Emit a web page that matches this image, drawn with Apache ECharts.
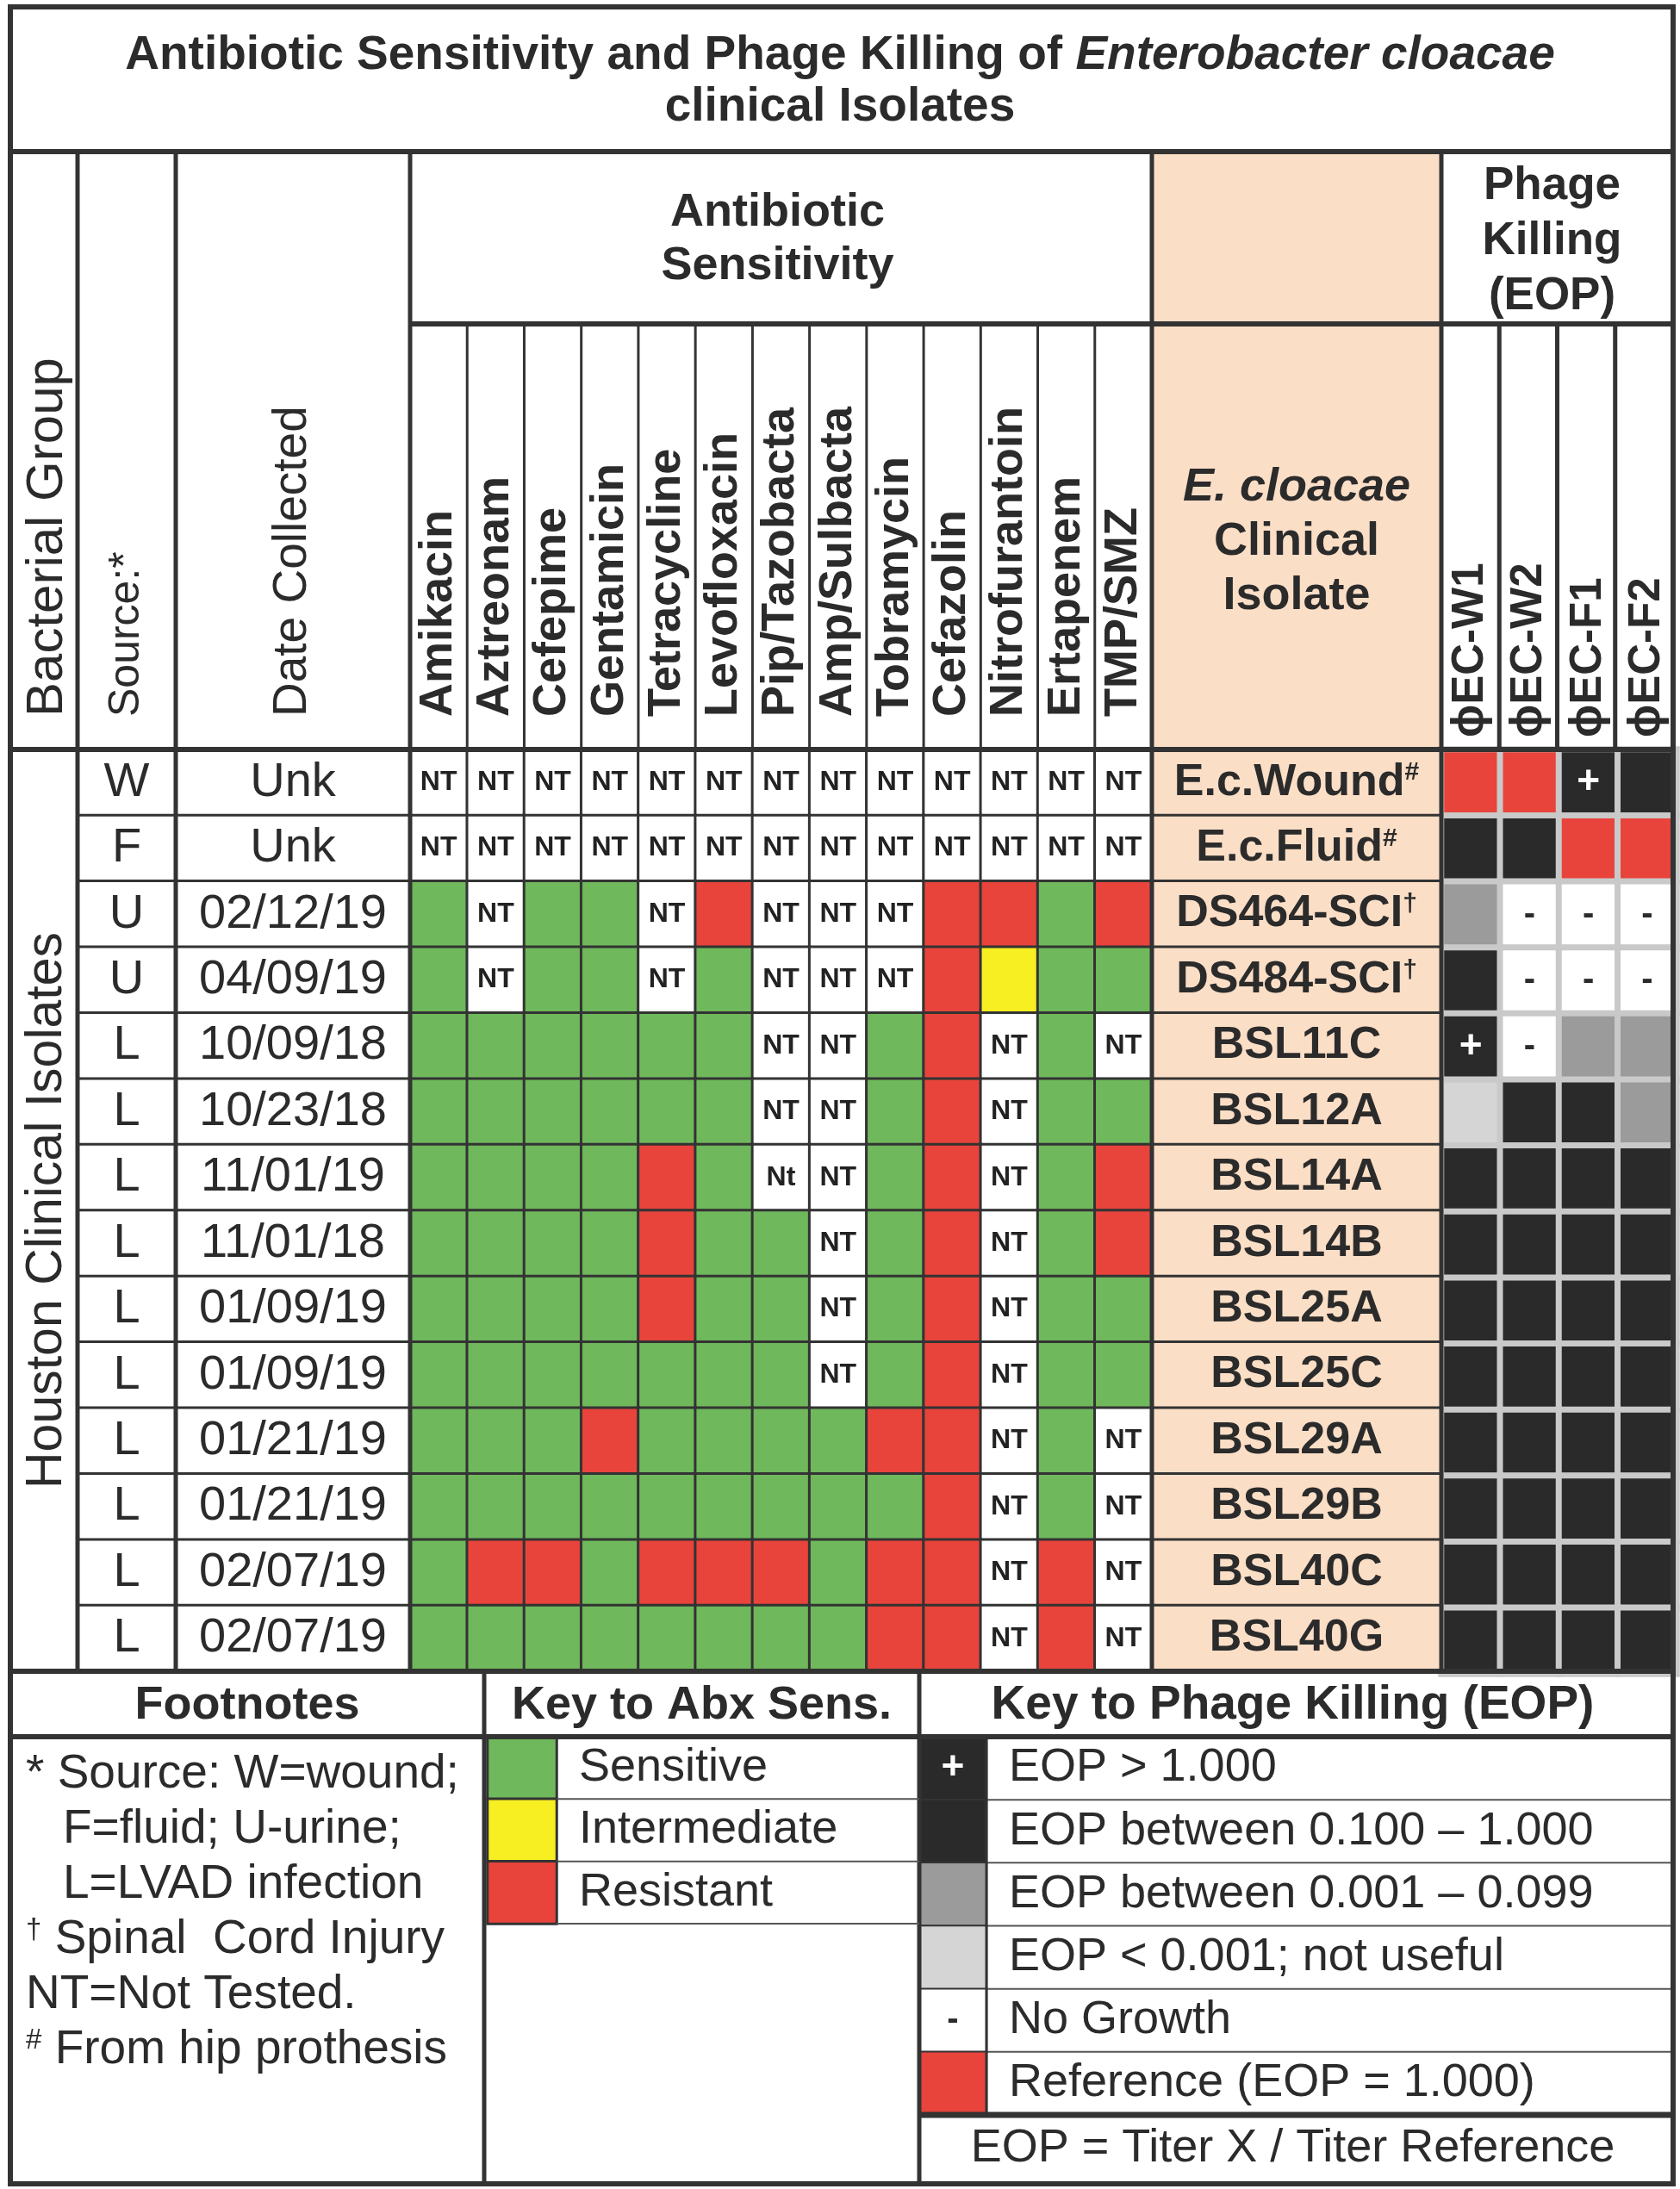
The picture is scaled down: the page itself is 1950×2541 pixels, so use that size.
<!DOCTYPE html>
<html>
<head>
<meta charset="utf-8">
<title>Antibiotic Sensitivity and Phage Killing of Enterobacter cloacae</title>
<script src="https://cdn.jsdelivr.net/npm/echarts@6/dist/echarts.min.js"></script>
<style>
    html, body { margin: 0; padding: 0; background: #fff; }
    #chart { width: 1950px; height: 2541px; }
</style>
</head>
<body>
<div id="chart"></div>
<script>
var antibiotics = ['Amikacin', 'Aztreonam', 'Cefepime', 'Gentamicin', 'Tetracycline', 'Levofloxacin',
    'Pip/Tazobacta', 'Amp/Sulbacta', 'Tobramycin', 'Cefazolin', 'Nitrofurantoin', 'Ertapenem', 'TMP/SMZ'];
var phages = ['\u03d5EC-W1', '\u03d5EC-W2', '\u03d5EC-F1', '\u03d5EC-F2'];
var isolates = ['E.c.Wound#', 'E.c.Fluid#', 'DS464-SCI\u2020', 'DS484-SCI\u2020', 'BSL11C', 'BSL12A', 'BSL14A',
    'BSL14B', 'BSL25A', 'BSL25C', 'BSL29A', 'BSL29B', 'BSL40C', 'BSL40G'];
var sources = ['W', 'F', 'U', 'U', 'L', 'L', 'L', 'L', 'L', 'L', 'L', 'L', 'L', 'L'];
var dates = ['Unk', 'Unk', '02/12/19', '04/09/19', '10/09/18', '10/23/18', '11/01/19', '11/01/18',
    '01/09/19', '01/09/19', '01/21/19', '01/21/19', '02/07/19', '02/07/19'];

// S = sensitive, I = intermediate, R = resistant, NT = not tested
var abxResults = [
    ['NT','NT','NT','NT','NT','NT','NT','NT','NT','NT','NT','NT','NT'],
    ['NT','NT','NT','NT','NT','NT','NT','NT','NT','NT','NT','NT','NT'],
    ['S','NT','S','S','NT','R','NT','NT','NT','R','R','S','R'],
    ['S','NT','S','S','NT','S','NT','NT','NT','R','I','S','S'],
    ['S','S','S','S','S','S','NT','NT','S','R','NT','S','NT'],
    ['S','S','S','S','S','S','NT','NT','S','R','NT','S','S'],
    ['S','S','S','S','R','S','Nt','NT','S','R','NT','S','R'],
    ['S','S','S','S','R','S','S','NT','S','R','NT','S','R'],
    ['S','S','S','S','R','S','S','NT','S','R','NT','S','S'],
    ['S','S','S','S','S','S','S','NT','S','R','NT','S','S'],
    ['S','S','S','R','S','S','S','S','R','R','NT','S','NT'],
    ['S','S','S','S','S','S','S','S','S','R','NT','S','NT'],
    ['S','R','R','S','R','R','R','S','R','R','NT','R','NT'],
    ['S','S','S','S','S','S','S','S','R','R','NT','R','NT']
];

// REF = reference, PLUS = EOP > 1, HIGH = 0.1-1, MID = 0.001-0.099, LOW = < 0.001, NG = no growth
var phageResults = [
    ['REF','REF','PLUS','HIGH'],
    ['HIGH','HIGH','REF','REF'],
    ['MID','NG','NG','NG'],
    ['HIGH','NG','NG','NG'],
    ['PLUS','NG','MID','MID'],
    ['LOW','HIGH','HIGH','MID'],
    ['HIGH','HIGH','HIGH','HIGH'],
    ['HIGH','HIGH','HIGH','HIGH'],
    ['HIGH','HIGH','HIGH','HIGH'],
    ['HIGH','HIGH','HIGH','HIGH'],
    ['HIGH','HIGH','HIGH','HIGH'],
    ['HIGH','HIGH','HIGH','HIGH'],
    ['HIGH','HIGH','HIGH','HIGH'],
    ['HIGH','HIGH','HIGH','HIGH']
];

var abxKeyCodes = ['S', 'I', 'R'];
var abxKeyLabels = ['Sensitive', 'Intermediate', 'Resistant'];
var phageKeyCodes = ['PLUS', 'HIGH', 'MID', 'LOW', 'NG', 'REF'];
var phageKeyLabels = ['EOP > 1.000', 'EOP between 0.100 \u2013 1.000', 'EOP between 0.001 \u2013 0.099',
    'EOP < 0.001; not useful', 'No Growth', 'Reference (EOP = 1.000)'];

var footnoteLines = ['* Source: W=wound;', 'F=fluid; U-urine;', 'L=LVAD infection',
    '{s|\u2020} Spinal  Cord Injury', 'NT=Not Tested.', '{s|#} From hip prothesis'];
var footnoteIndent = [0, 1, 1, 0, 0, 0];

// ---- look ----
var FONT = '"Liberation Sans", Arial, "DejaVu Sans", sans-serif';
var INK = '#2b2b2b';
var LINE = '#333';
var codeColor = {
    S: '#6fb85c', I: '#f7ef22', R: '#e8443c', NT: '#ffffff', Nt: '#ffffff',
    REF: '#e8443c', PLUS: '#2a2a2a', HIGH: '#2a2a2a', MID: '#9b9b9b', LOW: '#d5d5d5', NG: '#ffffff',
    INFO: '#ffffff', ISO: '#fbdec6'
};
var codeList = Object.keys(codeColor);
function code(c) { return codeList.indexOf(c); }

// ---- layout of the table frame ----
var L = 12, R = 1942, T = 8, B = 2535;
var TITLE_B = 176, HEAD_MID = 376, DATA_T = 870, DATA_B = 1940;
var X_GRP = 90, X_SRC = 204, X_DATE = 476, X_ISO = 1337, X_PHG = 1673;
var FOOT_HEAD_B = 2016, X_FOOT = 562, X_KEY = 1067, PKEY_B = 2455, AKEY_H = 217;

var chart = echarts.init(document.getElementById('chart'), null, {renderer: 'canvas'});

function seg(x1, y1, x2, y2, w, c) {
    return {type: 'line', z: 100, silent: true, shape: {x1: x1, y1: y1, x2: x2, y2: y2},
        style: {stroke: c || LINE, lineWidth: w}};
}
function txt(x, y, text, size, opt) {
    opt = opt || {};
    return {
        type: 'text', z: 110, silent: true, x: x, y: y, rotation: opt.rot || 0,
        style: {
            text: text, fill: INK, rich: opt.rich,
            font: (opt.style || 'normal') + ' ' + (opt.weight || 'normal') + ' ' + size + 'px ' + FONT,
            textAlign: opt.align || 'center', textVerticalAlign: 'middle',
            align: opt.align || 'center', verticalAlign: 'middle', lineHeight: opt.lh
        }
    };
}
function richPart(size, weight, italic, extra) {
    var o = {fontSize: size, fontWeight: weight, fontStyle: italic ? 'italic' : 'normal',
        fontFamily: FONT, fill: INK, color: INK};
    for (var k in extra) o[k] = extra[k];
    return o;
}

// ---- heatmap data ----
var abxData = [], phageData = [], srcData = [], dateData = [], isoData = [];
isolates.forEach(function(name, r) {
    abxResults[r].forEach(function(v, c) { abxData.push([c, r, code(v)]); });
    phageResults[r].forEach(function(v, c) { phageData.push([c, r, code(v)]); });
    srcData.push([0, r, code('INFO')]);
    dateData.push([0, r, code('INFO')]);
    isoData.push([0, r, code('ISO')]);
});
var abxKeyData = abxKeyCodes.map(function(c, i) { return [0, i, code(c)]; });
var phageKeyData = phageKeyCodes.map(function(c, i) { return [0, i, code(c)]; });

function phageMark(c) {
    if (c === 'PLUS') return '{p|+}';
    if (c === 'NG') return '{m|-}';
    return '';
}
var markRich = {
    p: richPart(46, 'bold', false, {fill: '#fff', color: '#fff'}),
    m: richPart(40, 'bold', false)
};

// ---- grids ----
// phage grid runs a few px under the right/bottom frame so its outer gray edge is hidden
var grids = [
    {left: X_DATE, top: DATA_T, width: X_ISO - X_DATE, height: DATA_B - DATA_T},
    {left: X_PHG, top: DATA_T, width: R - X_PHG + 4, height: DATA_B - DATA_T + 3},
    {left: X_GRP, top: DATA_T, width: X_SRC - X_GRP, height: DATA_B - DATA_T},
    {left: X_SRC, top: DATA_T, width: X_DATE - X_SRC, height: DATA_B - DATA_T},
    {left: X_ISO, top: DATA_T, width: X_PHG - X_ISO, height: DATA_B - DATA_T},
    {left: X_FOOT + 4, top: FOOT_HEAD_B, width: 80, height: AKEY_H},
    {left: X_KEY, top: FOOT_HEAD_B, width: 78, height: PKEY_B - FOOT_HEAD_B}
];
var hidden = {show: false};
function catX(gi, data, extra) {
    var a = {type: 'category', gridIndex: gi, data: data, axisLine: hidden, axisTick: hidden,
        splitLine: hidden, axisLabel: hidden};
    for (var k in extra) a[k] = extra[k];
    return a;
}
function catY(gi, data, extra) {
    var a = {type: 'category', gridIndex: gi, data: data, inverse: true, axisLine: hidden,
        axisTick: hidden, splitLine: hidden, axisLabel: hidden};
    for (var k in extra) a[k] = extra[k];
    return a;
}
var one = [''];
var xAxes = [
    catX(0, antibiotics, {position: 'top', axisLabel: {show: true, rotate: -90, interval: 0, margin: 38,
        fontFamily: FONT, fontWeight: 'bold', fontSize: 54, color: INK}}),
    catX(1, phages, {position: 'top', axisLabel: {show: true, rotate: -90, interval: 0, margin: 14,
        fontFamily: FONT, fontWeight: 'bold', fontSize: 51, color: INK}}),
    catX(2, one), catX(3, one), catX(4, one), catX(5, one), catX(6, one)
];
var keyLabel = {show: true, margin: 26, fontFamily: FONT, fontSize: 54, color: INK, align: 'left'};
var yAxes = [
    catY(0, isolates), catY(1, isolates), catY(2, isolates), catY(3, isolates), catY(4, isolates),
    catY(5, abxKeyLabels, {position: 'right', axisLabel: keyLabel}),
    catY(6, phageKeyLabels, {position: 'right', axisLabel: echarts.util.extend({}, keyLabel, {margin: 20})})
];

function heat(gi, data, border, bw, label) {
    return {type: 'heatmap', xAxisIndex: gi, yAxisIndex: gi, data: data, animation: false,
        itemStyle: {borderColor: border, borderWidth: bw}, label: label, emphasis: {disabled: true}};
}

var series = [
    heat(0, abxData, LINE, 3, {show: true, fontFamily: FONT, fontWeight: 'bold', fontSize: 32, color: '#222',
        formatter: function(p) {
            var v = abxResults[p.value[1]][p.value[0]];
            return (v === 'NT' || v === 'Nt') ? v : '';
        }}),
    heat(1, phageData, '#c9c9c9', 7, {show: true, rich: markRich,
        formatter: function(p) { return phageMark(phageResults[p.value[1]][p.value[0]]); }}),
    heat(2, srcData, LINE, 3, {show: true, fontFamily: FONT, fontSize: 56, color: INK,
        formatter: function(p) { return sources[p.value[1]]; }}),
    heat(3, dateData, LINE, 3, {show: true, fontFamily: FONT, fontSize: 56, color: INK,
        formatter: function(p) { return dates[p.value[1]]; }}),
    heat(4, isoData, LINE, 3, {show: true,
        rich: {n: richPart(52, 'bold', false), s: richPart(30, 'bold', false, {verticalAlign: 'top'})},
        formatter: function(p) {
            var name = isolates[p.value[1]];
            var m = name.match(/[#\u2020]$/);
            return m ? '{n|' + name.slice(0, -1) + '}{s|' + m[0] + '}' : '{n|' + name + '}';
        }}),
    heat(5, abxKeyData, LINE, 3, {show: false}),
    heat(6, phageKeyData, LINE, 2, {show: true, rich: markRich,
        formatter: function(p) { return phageMark(phageKeyCodes[p.value[1]]); }})
];

// ---- frame, headers and footnotes ----
var g = [];
g.push({type: 'rect', z: 1, silent: true, shape: {x: X_ISO, y: TITLE_B, width: X_PHG - X_ISO, height: DATA_T - TITLE_B},
    style: {fill: codeColor.ISO}});
g.push({type: 'rect', z: 101, silent: true, shape: {x: L, y: T, width: R - L, height: B - T},
    style: {fill: 'none', stroke: LINE, lineWidth: 6}});
g.push(seg(L, TITLE_B, R, TITLE_B, 6));
g.push(seg(X_DATE, HEAD_MID, R, HEAD_MID, 6));
g.push(seg(L, DATA_T, R, DATA_T, 6));
g.push(seg(L, DATA_B, R, DATA_B, 6));
[X_GRP, X_SRC, X_DATE, X_ISO, X_PHG].forEach(function(x) { g.push(seg(x, TITLE_B, x, DATA_B, 5)); });
var abxW = (X_ISO - X_DATE) / antibiotics.length;
antibiotics.forEach(function(a, i) {
    if (i > 0) g.push(seg(X_DATE + i * abxW, HEAD_MID, X_DATE + i * abxW, DATA_T, 3));
});
var phW = (R - X_PHG) / phages.length;
phages.forEach(function(a, i) {
    if (i > 0) g.push(seg(X_PHG + i * phW, HEAD_MID, X_PHG + i * phW, DATA_T, 5));
});
// bottom block
g.push(seg(L, FOOT_HEAD_B, R, FOOT_HEAD_B, 6));
g.push(seg(X_FOOT, DATA_B, X_FOOT, B, 5));
g.push(seg(X_KEY, DATA_B, X_KEY, B, 5));
g.push(seg(X_KEY, PKEY_B, R, PKEY_B, 7));
var akH = AKEY_H / abxKeyCodes.length;
abxKeyCodes.forEach(function(c, i) {
    g.push(seg(X_FOOT + 84, FOOT_HEAD_B + (i + 1) * akH, X_KEY, FOOT_HEAD_B + (i + 1) * akH, 2, '#555'));
});
var pkH = (PKEY_B - FOOT_HEAD_B) / phageKeyCodes.length;
phageKeyCodes.forEach(function(c, i) {
    if (i < phageKeyCodes.length - 1)
        g.push(seg(X_KEY + 78, FOOT_HEAD_B + (i + 1) * pkH, R, FOOT_HEAD_B + (i + 1) * pkH, 2, '#555'));
});
g.push(seg(X_KEY + 78, FOOT_HEAD_B, X_KEY + 78, PKEY_B, 3));

// title
g.push(txt((L + R) / 2 - 2, 95, '{b|Antibiotic Sensitivity and Phage Killing of }{bi|Enterobacter cloacae}\n{b|clinical Isolates}', 55,
    {rich: {b: richPart(55, 'bold', false, {lineHeight: 60}), bi: richPart(55, 'bold', true, {lineHeight: 60})}}));
// column headers
g.push(txt((L + X_GRP) / 2 + 4, 832, 'Bacterial Group', 60, {rot: Math.PI / 2, align: 'left'}));
g.push(txt((X_GRP + X_SRC) / 2, 832, 'Source:*', 50, {rot: Math.PI / 2, align: 'left'}));
g.push(txt((X_SRC + X_DATE) / 2, 832, 'Date Collected', 55, {rot: Math.PI / 2, align: 'left'}));
g.push(txt((L + X_GRP) / 2 + 4, (DATA_T + DATA_B) / 2, 'Houston Clinical Isolates', 59, {rot: Math.PI / 2}));
g.push(txt((X_DATE + X_ISO) / 2 - 4, 278, 'Antibiotic\nSensitivity', 54, {weight: 'bold', lh: 62}));
g.push(txt((X_ISO + X_PHG) / 2, 629, '{i|E. cloacae}\n{b|Clinical}\n{b|Isolate}', 54,
    {rich: {b: richPart(54, 'bold', false, {lineHeight: 63}), i: richPart(54, 'bold', true, {lineHeight: 63})}}));
g.push(txt((X_PHG + R) / 2 - 6, 280, 'Phage\nKilling\n(EOP)', 53, {weight: 'bold', lh: 64}));
// bottom headers
g.push(txt((L + X_FOOT) / 2, 1980, 'Footnotes', 54, {weight: 'bold'}));
g.push(txt((X_FOOT + X_KEY) / 2, 1980, 'Key to Abx Sens.', 54, {weight: 'bold'}));
g.push(txt((X_KEY + R) / 2 - 4, 1980, 'Key to Phage Killing (EOP)', 55, {weight: 'bold'}));
g.push(txt((X_KEY + R) / 2 - 4, 2494, 'EOP = Titer X / Titer Reference', 54));
footnoteLines.forEach(function(line, i) {
    g.push(txt(30 + footnoteIndent[i] * 43, 2060 + i * 64, '{t|' + line.replace(/\{s\|(.)\}/, '}{s|$1}{t|') + '}', 55,
        {align: 'left', rich: {t: richPart(55, 'normal', false), s: richPart(33, 'normal', false, {verticalAlign: 'top'})}}));
});

chart.setOption({
    backgroundColor: '#ffffff',
    animation: false,
    grid: grids,
    xAxis: xAxes,
    yAxis: yAxes,
    visualMap: {
        type: 'piecewise', show: false, dimension: 2, seriesIndex: [0, 1, 2, 3, 4, 5, 6],
        pieces: codeList.map(function(c, i) { return {value: i, color: codeColor[c]}; })
    },
    series: series,
    graphic: g
});
</script>
</body>
</html>
